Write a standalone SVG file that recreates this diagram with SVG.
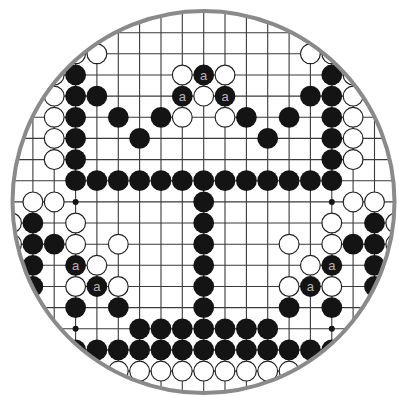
<svg xmlns="http://www.w3.org/2000/svg" width="399" height="396" viewBox="0 0 399 396">
<style>
.g{stroke:#3a3a3a;stroke-width:1.1;fill:none}
.b{fill:#141414}
.w{fill:#fff;stroke:#222;stroke-width:1.2}
.h{fill:#141414}
.lbl{font-family:"Liberation Sans",Arial,sans-serif;font-size:13px;fill:#b4b4b4;text-anchor:middle}
</style>
<defs>
<clipPath id="cp"><circle cx="203.5" cy="202" r="191"/></clipPath>
</defs>
<rect width="399" height="396" fill="#fff"/>
<g clip-path="url(#cp)">
<g id="grid">
<path class="g" d="M11.5 0V396M32.9 0V396M54.2 0V396M75.6 0V396M96.9 0V396M118.3 0V396M139.6 0V396M161 0V396M182.3 0V396M203.7 0V396M225 0V396M246.4 0V396M267.7 0V396M289.1 0V396M310.4 0V396M331.8 0V396M353.1 0V396M374.5 0V396M395.8 0V396"/>
<path class="g" d="M0 11.5H399M0 32.7H399M0 53.8H399M0 75H399M0 96.1H399M0 117.3H399M0 138.4H399M0 159.6H399M0 180.7H399M0 201.9H399M0 223H399M0 244.2H399M0 265.3H399M0 286.5H399M0 307.6H399M0 328.8H399M0 349.9H399M0 371.1H399M0 392.2H399"/>
<circle class="h" cx="75.6" cy="201.9" r="3"/>
<circle class="h" cx="331.8" cy="201.9" r="3"/>
<circle class="h" cx="75.6" cy="328.8" r="3"/>
<circle class="h" cx="331.8" cy="328.8" r="3"/>
</g>
<g id="black-stones">
<circle class="b" cx="75.6" cy="75" r="10.4"/><circle class="b" cx="203.7" cy="75" r="10.4"/><circle class="b" cx="331.8" cy="75" r="10.4"/>
<circle class="b" cx="75.6" cy="96.1" r="10.4"/><circle class="b" cx="96.9" cy="96.1" r="10.4"/><circle class="b" cx="182.3" cy="96.1" r="10.4"/><circle class="b" cx="225" cy="96.1" r="10.4"/><circle class="b" cx="310.4" cy="96.1" r="10.4"/><circle class="b" cx="331.8" cy="96.1" r="10.4"/>
<circle class="b" cx="75.6" cy="117.3" r="10.4"/><circle class="b" cx="118.3" cy="117.3" r="10.4"/><circle class="b" cx="161" cy="117.3" r="10.4"/><circle class="b" cx="246.4" cy="117.3" r="10.4"/><circle class="b" cx="289.1" cy="117.3" r="10.4"/><circle class="b" cx="331.8" cy="117.3" r="10.4"/>
<circle class="b" cx="75.6" cy="138.4" r="10.4"/><circle class="b" cx="139.6" cy="138.4" r="10.4"/><circle class="b" cx="267.7" cy="138.4" r="10.4"/><circle class="b" cx="331.8" cy="138.4" r="10.4"/>
<circle class="b" cx="75.6" cy="159.6" r="10.4"/><circle class="b" cx="331.8" cy="159.6" r="10.4"/>
<circle class="b" cx="75.6" cy="180.7" r="10.4"/><circle class="b" cx="96.9" cy="180.7" r="10.4"/><circle class="b" cx="118.3" cy="180.7" r="10.4"/><circle class="b" cx="139.6" cy="180.7" r="10.4"/><circle class="b" cx="161" cy="180.7" r="10.4"/><circle class="b" cx="182.3" cy="180.7" r="10.4"/><circle class="b" cx="203.7" cy="180.7" r="10.4"/><circle class="b" cx="225" cy="180.7" r="10.4"/><circle class="b" cx="246.4" cy="180.7" r="10.4"/><circle class="b" cx="267.7" cy="180.7" r="10.4"/><circle class="b" cx="289.1" cy="180.7" r="10.4"/><circle class="b" cx="310.4" cy="180.7" r="10.4"/><circle class="b" cx="331.8" cy="180.7" r="10.4"/>
<circle class="b" cx="203.7" cy="201.9" r="10.4"/>
<circle class="b" cx="32.9" cy="223" r="10.4"/><circle class="b" cx="203.7" cy="223" r="10.4"/><circle class="b" cx="374.5" cy="223" r="10.4"/>
<circle class="b" cx="32.9" cy="244.2" r="10.4"/><circle class="b" cx="54.2" cy="244.2" r="10.4"/><circle class="b" cx="203.7" cy="244.2" r="10.4"/><circle class="b" cx="353.1" cy="244.2" r="10.4"/><circle class="b" cx="374.5" cy="244.2" r="10.4"/>
<circle class="b" cx="32.9" cy="265.3" r="10.4"/><circle class="b" cx="75.6" cy="265.3" r="10.4"/><circle class="b" cx="203.7" cy="265.3" r="10.4"/><circle class="b" cx="331.8" cy="265.3" r="10.4"/><circle class="b" cx="374.5" cy="265.3" r="10.4"/>
<circle class="b" cx="32.9" cy="286.5" r="10.4"/><circle class="b" cx="96.9" cy="286.5" r="10.4"/><circle class="b" cx="203.7" cy="286.5" r="10.4"/><circle class="b" cx="310.4" cy="286.5" r="10.4"/><circle class="b" cx="374.5" cy="286.5" r="10.4"/>
<circle class="b" cx="75.6" cy="307.6" r="10.4"/><circle class="b" cx="118.3" cy="307.6" r="10.4"/><circle class="b" cx="203.7" cy="307.6" r="10.4"/><circle class="b" cx="289.1" cy="307.6" r="10.4"/><circle class="b" cx="331.8" cy="307.6" r="10.4"/>
<circle class="b" cx="139.6" cy="328.8" r="10.4"/><circle class="b" cx="161" cy="328.8" r="10.4"/><circle class="b" cx="182.3" cy="328.8" r="10.4"/><circle class="b" cx="203.7" cy="328.8" r="10.4"/><circle class="b" cx="225" cy="328.8" r="10.4"/><circle class="b" cx="246.4" cy="328.8" r="10.4"/><circle class="b" cx="267.7" cy="328.8" r="10.4"/>
<circle class="b" cx="75.6" cy="349.9" r="10.4"/><circle class="b" cx="96.9" cy="349.9" r="10.4"/><circle class="b" cx="118.3" cy="349.9" r="10.4"/><circle class="b" cx="139.6" cy="349.9" r="10.4"/><circle class="b" cx="161" cy="349.9" r="10.4"/><circle class="b" cx="182.3" cy="349.9" r="10.4"/><circle class="b" cx="203.7" cy="349.9" r="10.4"/><circle class="b" cx="225" cy="349.9" r="10.4"/><circle class="b" cx="246.4" cy="349.9" r="10.4"/><circle class="b" cx="267.7" cy="349.9" r="10.4"/><circle class="b" cx="289.1" cy="349.9" r="10.4"/><circle class="b" cx="310.4" cy="349.9" r="10.4"/><circle class="b" cx="331.8" cy="349.9" r="10.4"/>
</g>
<g id="white-stones">
<circle class="w" cx="75.6" cy="53.8" r="9.9"/><circle class="w" cx="96.9" cy="53.8" r="9.9"/><circle class="w" cx="310.4" cy="53.8" r="9.9"/><circle class="w" cx="331.8" cy="53.8" r="9.9"/>
<circle class="w" cx="54.2" cy="75" r="9.9"/><circle class="w" cx="182.3" cy="75" r="9.9"/><circle class="w" cx="225" cy="75" r="9.9"/><circle class="w" cx="353.1" cy="75" r="9.9"/>
<circle class="w" cx="54.2" cy="96.1" r="9.9"/><circle class="w" cx="203.7" cy="96.1" r="9.9"/><circle class="w" cx="353.1" cy="96.1" r="9.9"/>
<circle class="w" cx="54.2" cy="117.3" r="9.9"/><circle class="w" cx="182.3" cy="117.3" r="9.9"/><circle class="w" cx="225" cy="117.3" r="9.9"/><circle class="w" cx="353.1" cy="117.3" r="9.9"/>
<circle class="w" cx="54.2" cy="138.4" r="9.9"/><circle class="w" cx="353.1" cy="138.4" r="9.9"/>
<circle class="w" cx="54.2" cy="159.6" r="9.9"/><circle class="w" cx="353.1" cy="159.6" r="9.9"/>
<circle class="w" cx="32.9" cy="201.9" r="9.9"/><circle class="w" cx="54.2" cy="201.9" r="9.9"/><circle class="w" cx="353.1" cy="201.9" r="9.9"/><circle class="w" cx="374.5" cy="201.9" r="9.9"/>
<circle class="w" cx="11.5" cy="223" r="9.9"/><circle class="w" cx="75.6" cy="223" r="9.9"/><circle class="w" cx="331.8" cy="223" r="9.9"/><circle class="w" cx="395.8" cy="223" r="9.9"/>
<circle class="w" cx="11.5" cy="244.2" r="9.9"/><circle class="w" cx="75.6" cy="244.2" r="9.9"/><circle class="w" cx="118.3" cy="244.2" r="9.9"/><circle class="w" cx="289.1" cy="244.2" r="9.9"/><circle class="w" cx="331.8" cy="244.2" r="9.9"/><circle class="w" cx="395.8" cy="244.2" r="9.9"/>
<circle class="w" cx="96.9" cy="265.3" r="9.9"/><circle class="w" cx="310.4" cy="265.3" r="9.9"/>
<circle class="w" cx="75.6" cy="286.5" r="9.9"/><circle class="w" cx="118.3" cy="286.5" r="9.9"/><circle class="w" cx="289.1" cy="286.5" r="9.9"/><circle class="w" cx="331.8" cy="286.5" r="9.9"/>
<circle class="w" cx="118.3" cy="371.1" r="9.9"/><circle class="w" cx="139.6" cy="371.1" r="9.9"/><circle class="w" cx="161" cy="371.1" r="9.9"/><circle class="w" cx="182.3" cy="371.1" r="9.9"/><circle class="w" cx="203.7" cy="371.1" r="9.9"/><circle class="w" cx="225" cy="371.1" r="9.9"/><circle class="w" cx="246.4" cy="371.1" r="9.9"/><circle class="w" cx="267.7" cy="371.1" r="9.9"/><circle class="w" cx="289.1" cy="371.1" r="9.9"/>
</g>
<g id="labels">
<text class="lbl" x="203.7" y="79.5">a</text>
<text class="lbl" x="182.3" y="100.6">a</text>
<text class="lbl" x="225" y="100.6">a</text>
<text class="lbl" x="75.6" y="269.8">a</text>
<text class="lbl" x="331.8" y="269.8">a</text>
<text class="lbl" x="96.9" y="291">a</text>
<text class="lbl" x="310.4" y="291">a</text>
</g>
</g>
<circle id="rim" cx="203.5" cy="202" r="191" fill="none" stroke="#8a8a8a" stroke-width="4"/>
</svg>
